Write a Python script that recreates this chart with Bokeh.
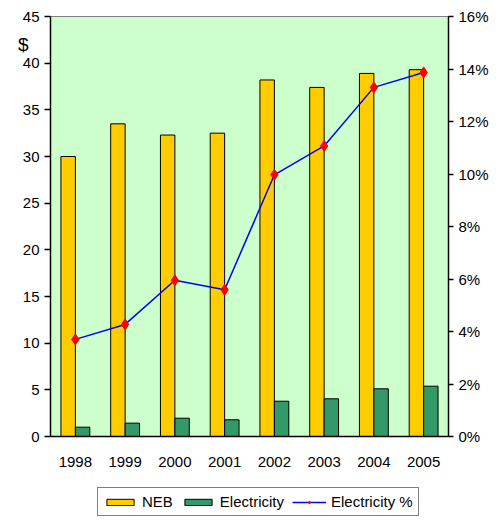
from bokeh.plotting import figure
from bokeh.layouts import column
from bokeh.models import Range1d, LinearAxis, FixedTicker, Legend, PrintfTickFormatter
from bokeh.embed import file_html
from bokeh.resources import INLINE

years = ["1998", "1999", "2000", "2001", "2002", "2003", "2004", "2005"]
neb = [30.0, 33.5, 32.3, 32.5, 38.2, 37.4, 38.9, 39.3]
electricity = [1.0, 1.43, 1.96, 1.79, 3.78, 4.04, 5.11, 5.39]
electricity_pct = [3.70, 4.27, 5.95, 5.59, 9.97, 11.07, 13.30, 13.87]
left_ticks = [0, 5, 10, 15, 20, 25, 30, 35, 40, 45]
right_ticks = [0, 2, 4, 6, 8, 10, 12, 14, 16]
unit_label = "$"

FONT = "Liberation Sans"
NEB_COLOR = "#FFCC00"
ELEC_COLOR = "#339966"
xs = [i + 0.5 for i in range(len(years))]

p = figure(width=500, height=470, output_backend="svg", toolbar_location=None,
           x_range=Range1d(0, 8), y_range=Range1d(0, 45),
           min_border_left=50, min_border_right=52, min_border_top=16, min_border_bottom=34)
p.background_fill_color = "#CCFFCC"
p.border_fill_color = "white"
p.outline_line_color = "#808080"
p.xgrid.visible = False
p.ygrid.visible = False
p.extra_y_ranges = {"pct": Range1d(0, 16)}

p.vbar(x=[x - 0.145 for x in xs], top=neb, width=0.29, fill_color=NEB_COLOR,
       line_color="black", line_width=1)
p.vbar(x=[x + 0.145 for x in xs], top=electricity, width=0.29, fill_color=ELEC_COLOR,
       line_color="black", line_width=1)
p.line(xs, electricity_pct, y_range_name="pct", line_color="#0000FF", line_width=1.5)
p.scatter(xs, electricity_pct, y_range_name="pct", marker="diamond", size=11,
          fill_color="#FF0000", line_color="#FF0000")

# x axis
xa = p.xaxis[0]
xa.ticker = FixedTicker(ticks=xs)
xa.major_label_overrides = {x: y for x, y in zip(xs, years)}
xa.major_tick_line_color = None
xa.minor_tick_line_color = None
xa.axis_line_color = "black"
xa.axis_line_width = 1.5
xa.major_label_text_font = FONT
xa.major_label_text_font_size = "15px"
xa.major_label_text_color = "black"
xa.major_label_standoff = 14

# left axis
ya = p.yaxis[0]
ya.ticker = FixedTicker(ticks=left_ticks)
ya.minor_tick_line_color = None
ya.major_tick_out = 6
ya.major_tick_in = 0
ya.axis_line_color = "black"
ya.axis_line_width = 1.5
ya.major_tick_line_width = 1.5
ya.major_label_text_font = FONT
ya.major_label_text_font_size = "15px"
ya.major_label_text_color = "black"
ya.major_label_standoff = 5

# "$" unit marker: a bare outer left axis with one labelled position
ua = LinearAxis(ticker=FixedTicker(ticks=[42]), major_label_overrides={42: unit_label})
ua.axis_line_color = None
ua.major_tick_line_color = None
ua.minor_tick_line_color = None
ua.major_tick_out = 0
ua.major_tick_in = 0
ua.major_label_standoff = -9
ua.major_label_text_font = FONT
ua.major_label_text_font_size = "19px"
ua.major_label_text_color = "black"
p.add_layout(ua, "left")

# right axis
ra = LinearAxis(y_range_name="pct", ticker=FixedTicker(ticks=right_ticks),
                formatter=PrintfTickFormatter(format="%d%%"))
ra.minor_tick_line_color = None
ra.major_tick_out = 5
ra.major_tick_in = 0
ra.axis_line_color = "black"
ra.axis_line_width = 1.5
ra.major_tick_line_width = 1.5
ra.major_label_text_font = FONT
ra.major_label_text_font_size = "15px"
ra.major_label_text_color = "black"
ra.major_label_standoff = 5
p.add_layout(ra, "right")

# legend strip below the chart: same series, drawn out of its visible range
lf = figure(width=500, height=52, output_backend="svg", toolbar_location=None,
            x_axis_type=None, y_axis_type=None,
            x_range=Range1d(100, 101), y_range=Range1d(100, 101),
            min_border_left=0, min_border_right=0, min_border_top=0, min_border_bottom=0)
lf.outline_line_color = None
lf.background_fill_color = "white"
lf.xgrid.visible = False
lf.ygrid.visible = False
l1 = lf.vbar(x=xs, top=neb, width=0.29, fill_color=NEB_COLOR, line_color="black", line_width=1)
l2 = lf.vbar(x=xs, top=electricity, width=0.29, fill_color=ELEC_COLOR, line_color="black", line_width=1)
l3 = lf.line(xs, electricity_pct, line_color="#0000FF", line_width=1.5)
l4 = lf.scatter(xs, electricity_pct, marker="diamond", size=11, fill_color="#FF0000", line_color="#FF0000")

legend = Legend(items=[("NEB", [l1]), ("Electricity", [l2]), ("Electricity %", [l3, l4])],
                orientation="horizontal", location=(47, 6))
legend.label_text_font = FONT
legend.label_text_font_size = "15px"
legend.label_text_color = "black"
legend.glyph_width = 34
legend.glyph_height = 8
legend.label_standoff = 5
legend.spacing = 8
legend.padding = 5
legend.margin = 0
legend.border_line_color = "black"
legend.border_line_width = 1
lf.add_layout(legend, "center")

layout = column(p, lf, spacing=0)
open("out.html", "w").write(file_html(layout, INLINE))
